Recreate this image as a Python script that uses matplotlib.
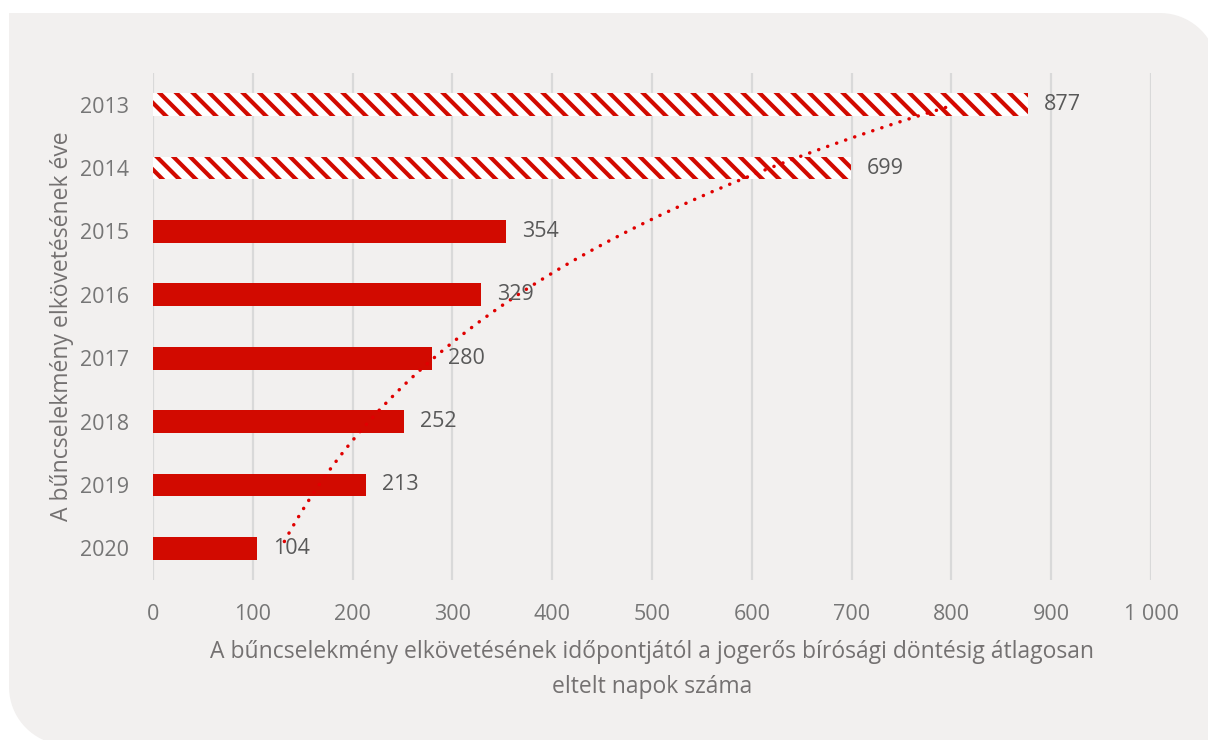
import numpy as np
import matplotlib
matplotlib.use("Agg")
import matplotlib.pyplot as plt
from matplotlib.patches import Polygon

# Data
years = ["2013", "2014", "2015", "2016", "2017", "2018", "2019", "2020"]
days = [877, 699, 354, 329, 280, 252, 213, 104]
hatched = [True, True, False, False, False, False, False, False]
xticks = [0, 100, 200, 300, 400, 500, 600, 700, 800, 900, 1000]
xtick_labels = ["0", "100", "200", "300", "400", "500", "600", "700", "800", "900", "1 000"]

RED = "#d20a00"
TICK_COLOR = "#767676"
LABEL_COLOR = "#595959"
TITLE_COLOR = "#747171"
PANEL = "#f2f0ef"
GRID = "#d9d9d9"

plt.rcParams["font.family"] = ["Open Sans", "DejaVu Sans"]
plt.rcParams["hatch.linewidth"] = 3.0

W, H = 1208, 740
fig = plt.figure(figsize=(W / 100, H / 100), dpi=100)
fig.patch.set_facecolor("white")


def px(x, y):
    return (x / W, 1 - y / H)


# Background panel: square top-left, rounded top-right and bottom-left corners
r = 58
pts = [px(9, 13)]
for a in np.linspace(90, 0, 20):
    t = np.radians(a)
    pts.append(px(1208 - r + r * np.cos(t) + 10, 13 + r - r * np.sin(t)))
pts.append(px(1230, 760))
for a in np.linspace(270, 180, 20):
    t = np.radians(a)
    pts.append(px(9 + r + r * np.cos(t), 745 - r - r * np.sin(t)))
panel = Polygon(pts, closed=True, transform=fig.transFigure, facecolor=PANEL,
                edgecolor="none", zorder=-5)
fig.patches.append(panel)

ax = fig.add_axes([153 / W, 1 - 580 / H, (1151 - 153) / W, (580 - 73) / H])
ax.set_facecolor("none")
ax.set_zorder(1)

ypos = np.arange(len(years))
for y, v, h in zip(ypos, days, hatched):
    if h:
        ax.barh(y, v, height=0.36, facecolor="white", edgecolor=RED,
                linewidth=0, hatch="\\\\", zorder=2)
    else:
        ax.barh(y, v, height=0.36, color=RED, linewidth=0, zorder=2)
    ax.text(v + 16, y, f"{v}", va="center", ha="left", fontsize=15.5,
            color=LABEL_COLOR, zorder=4)

# Exponential trend line fitted over the category index
idx = np.arange(1, len(days) + 1)
b, a = np.polyfit(idx, np.log(days), 1)
t = np.linspace(1, len(days), 200)
ax.plot(np.exp(a + b * t), t - 1, color="#e00000", linewidth=2.5,
        linestyle=(0, (0.05, 2.7)), dash_capstyle="round", zorder=3)

ax.set_xlim(0, 1000)
ax.set_ylim(len(years) - 0.5, -0.5)
ax.set_xticks(xticks)
ax.set_xticklabels(xtick_labels)
ax.set_yticks(ypos)
ax.set_yticklabels(years)
ax.tick_params(axis="both", length=0, labelsize=15.5, labelcolor=TICK_COLOR)
ax.tick_params(axis="x", pad=17)
ax.tick_params(axis="y", pad=17)
ax.grid(axis="x", color=GRID, linewidth=1.6, zorder=1)
ax.set_axisbelow(True)
for s in ax.spines.values():
    s.set_visible(False)

ax.set_xlabel("A bűncselekmény elkövetésének időpontjától a jogerős bírósági döntésig átlagosan\neltelt napok száma",
              fontsize=16.5, color=TITLE_COLOR, linespacing=1.6)
ax.xaxis.set_label_coords(0.5, -0.118)
ax.set_ylabel("A bűncselekmény elkövetésének éve", fontsize=16.5, color=TITLE_COLOR,
              va="center")
ax.yaxis.set_label_coords(-0.091, 0.5)

fig.savefig("out.png", dpi=100, facecolor="white")
